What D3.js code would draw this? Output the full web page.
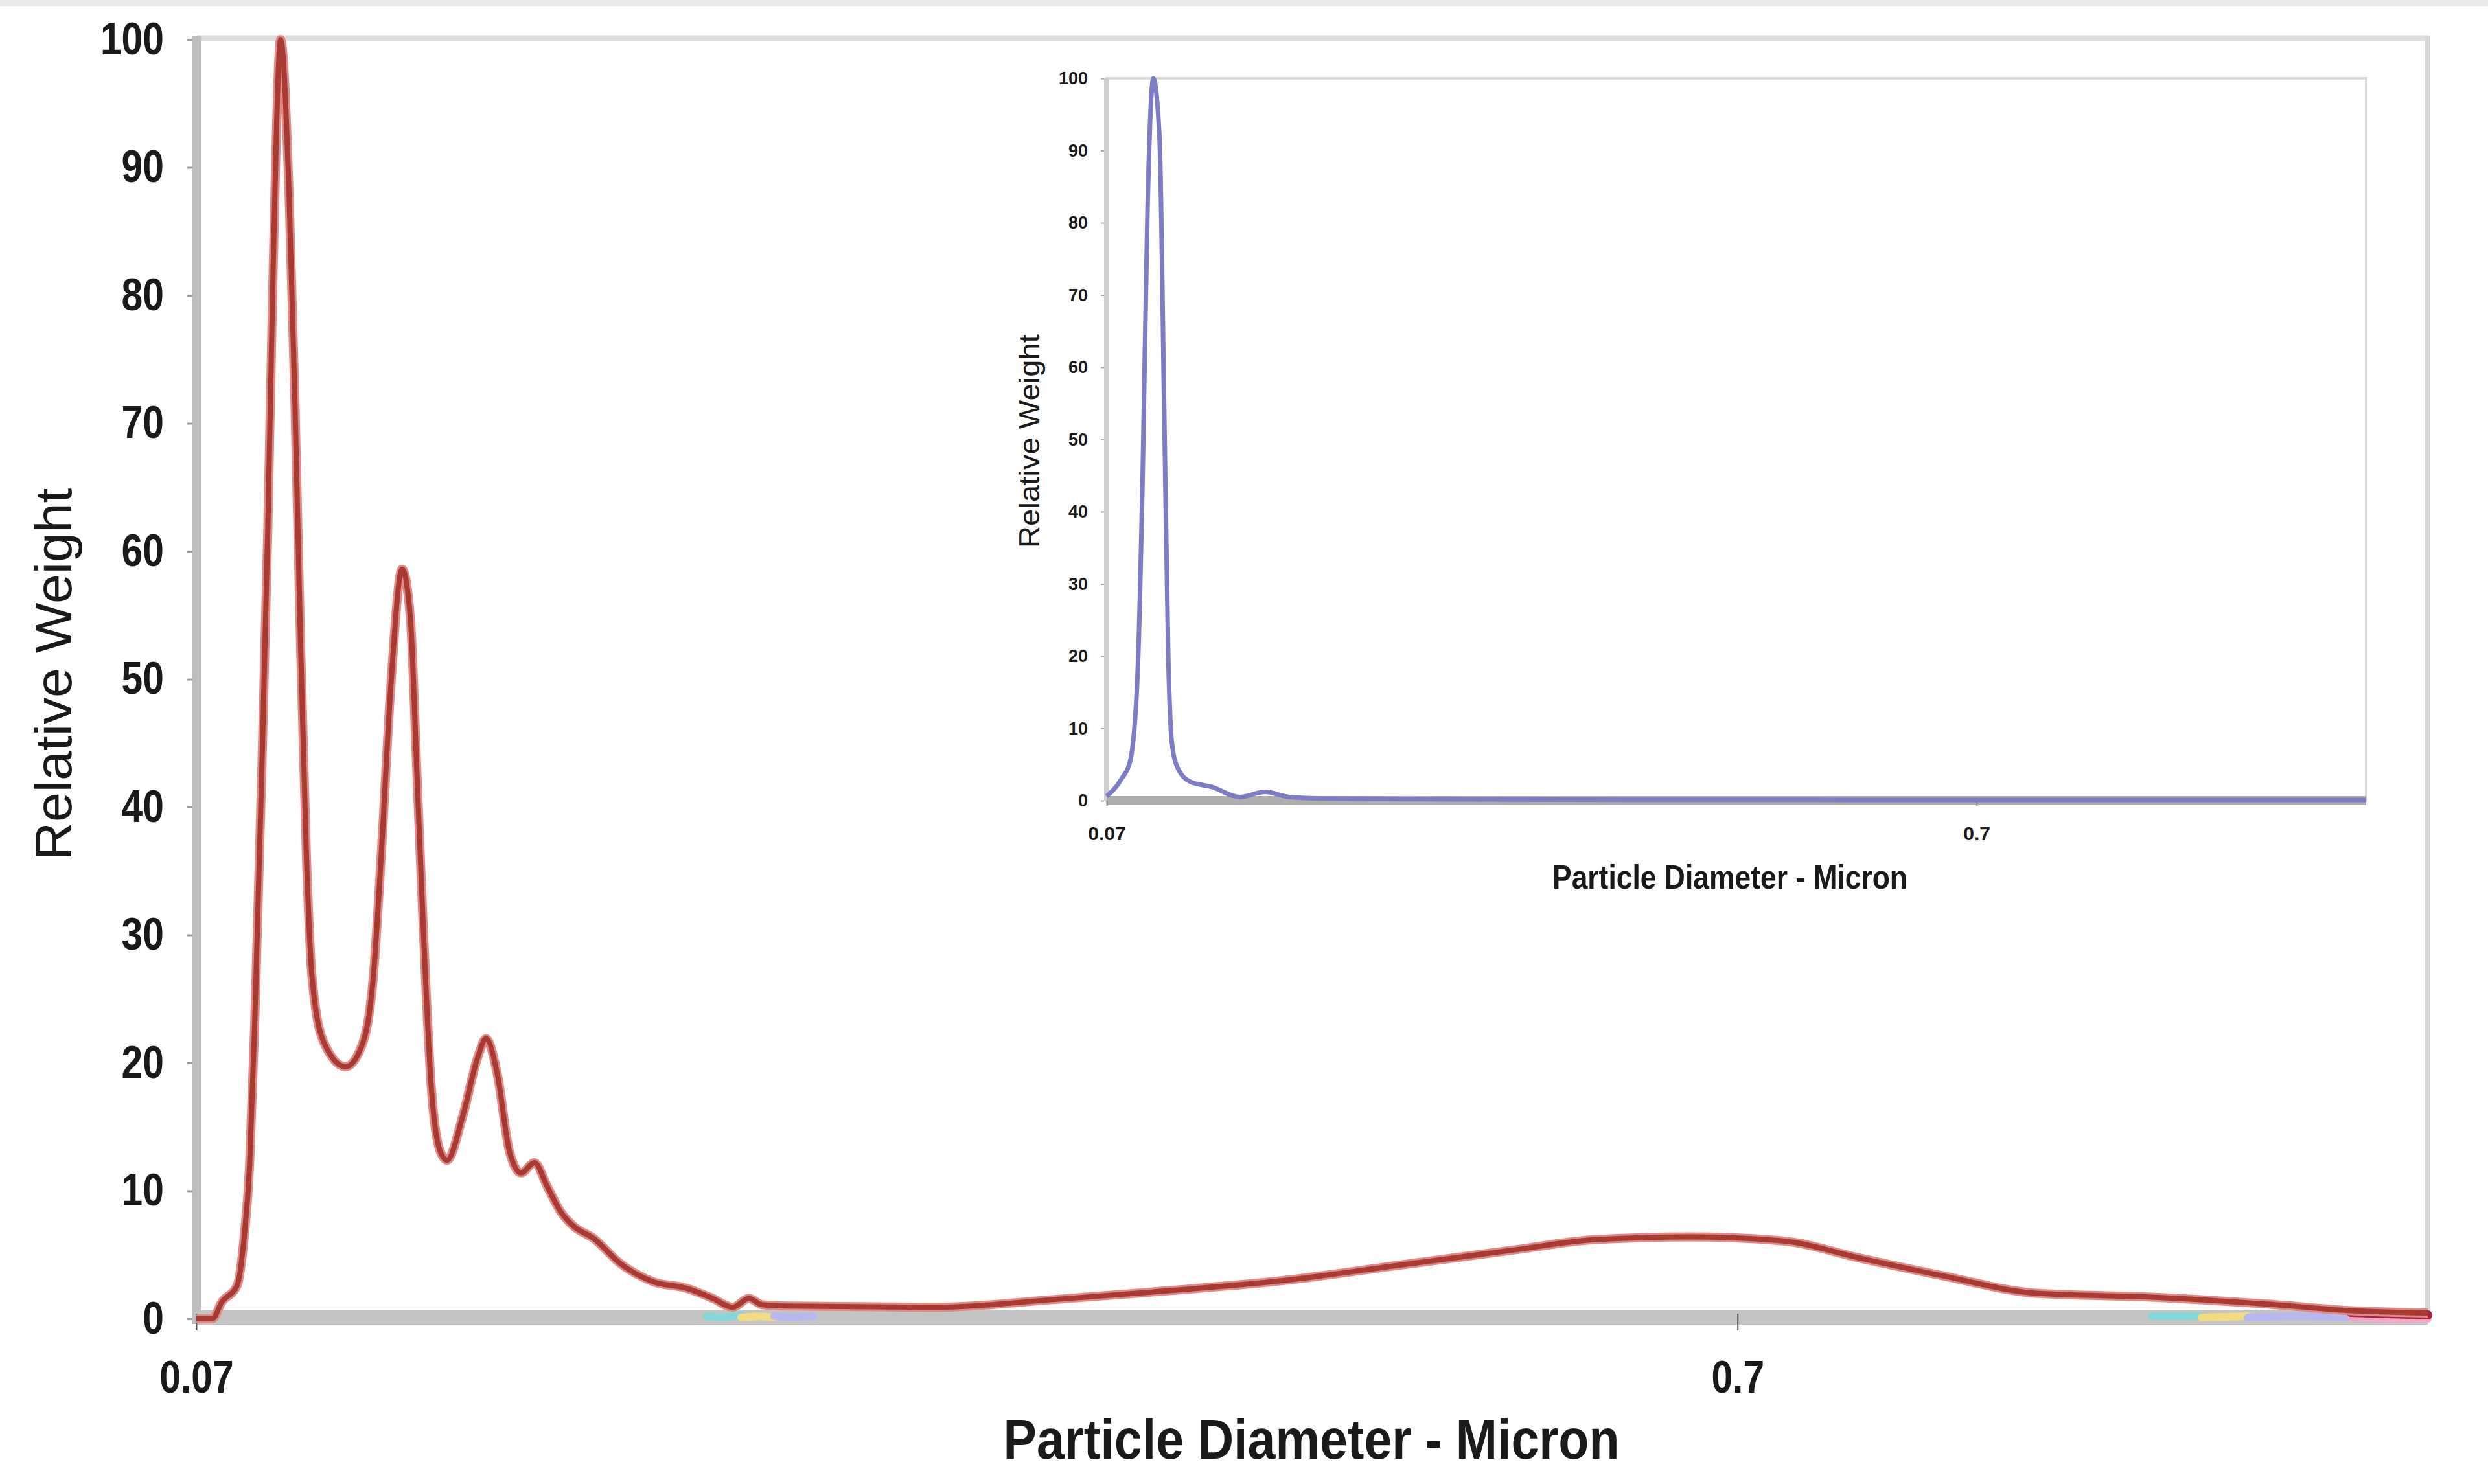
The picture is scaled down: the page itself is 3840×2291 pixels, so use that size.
<!DOCTYPE html>
<html>
<head>
<meta charset="utf-8">
<script src="https://cdn.jsdelivr.net/npm/d3@7"></script>
<style>
  body { margin: 0; background: #fff; }
  svg { display: block; }
  .narrow { font-family: "Liberation Sans Narrow", "Arial Narrow", "Liberation Sans", Arial, sans-serif; font-weight: bold; fill: #1a1a1a; }
  .regular { font-family: "Liberation Sans", Arial, sans-serif; fill: #1a1a1a; }
</style>
</head>
<body>
<svg id="chart" width="3840" height="2291"></svg>
<script>
// main distribution (red), particle diameter in micron vs relative weight
var diameter = [0.0700, 0.0717, 0.0727, 0.0744, 0.0752, 0.0758, 0.0764, 0.0772, 0.0779, 0.0785,
  0.0794, 0.0804, 0.0811, 0.0818, 0.0825, 0.0832, 0.0847, 0.0875, 0.0896, 0.0912,
  0.0923, 0.0936, 0.0952, 0.0964, 0.0973, 0.0983, 0.0994, 0.1007, 0.1018, 0.1042,
  0.1065, 0.1079, 0.1098, 0.1117, 0.1137, 0.1160, 0.1183, 0.1206, 0.1231, 0.1267,
  0.1318, 0.1385, 0.1455, 0.1514, 0.1560, 0.1598, 0.1630, 0.1691, 0.2116, 0.2517,
  0.2993, 0.3556, 0.4228, 0.5023, 0.5667, 0.6510, 0.7476, 0.8436, 0.9523, 1.0935,
  1.2994, 1.5453, 1.7439, 1.963]
var weight = [0, 0, 1.3, 2.6, 6.5, 12, 23.5, 43, 62, 81.7,
  100, 88, 72, 52.6, 36.5, 26.8, 21.6, 19.7, 21.3, 26.8,
  36.5, 49.4, 58.6, 54.6, 43, 30, 18.4, 13.2, 12.4, 15.8,
  20.3, 21.9, 19, 13.2, 11.4, 12.2, 10.3, 8.4, 7.2, 6.3,
  4.35, 2.9, 2.4, 1.6, 0.9, 1.6, 1.1, 1.0, 0.9, 1.5,
  2.2, 3.0, 4.2, 5.4, 6.2, 6.4, 6.1, 4.7, 3.35, 2.0,
  1.7, 1.15, 0.65, 0.45]

// inset distribution (blue)
var insetDiameter = [0.0700, 0.0728, 0.0745, 0.0760, 0.0770, 0.0780, 0.0792, 0.0805, 0.0815, 0.0824,
  0.0832, 0.0845, 0.0874, 0.0925, 0.0995, 0.1065, 0.1135, 0.125, 0.2, 0.5, 1.963]
var insetWeight = [0.6, 3, 5.5, 18, 45, 82, 100, 92, 55, 20,
  8, 4.5, 2.6, 1.9, 0.5, 1.2, 0.5, 0.3, 0.15, 0.1, 0.1]

// faint traces lying on the baseline (only short pieces show)
var traceDiameter = [0.150, 0.154, 0.158, 0.162, 0.166, 0.170, 0.176, 1.20, 1.30, 1.40, 1.50, 1.62, 1.75, 1.85, 1.963]
var cyanTrace     = [0.2, 0.1, 0.3, null, null, null, null, null, 0.2, 0.2, null, null, null, null, null]
var yellowTrace   = [null, null, 0.1, 0.2, 0.1, null, null, null, null, 0.1, 0.2, null, null, null, null]
var lavenderTrace = [null, null, null, null, 0.2, 0.1, 0.2, null, null, null, 0.1, 0.2, 0.1, null, null]
var pinkTrace     = [null, null, null, null, null, null, null, null, null, null, null, null, 0.1, 0.0, 0.0]
var crimsonTrace  = [null, null, null, null, null, null, null, null, null, null, null, null, 0.5, 0.4, 0.3]

var yTicks = d3.range(0, 101, 10)
var xTicks = [0.07, 0.7]

const svg = d3.select("#chart")

function zip(xs, ys) {
    return xs.map(function (d, i) { return {x: d, y: ys[i]} })
}

// squeeze bold text to look like a narrow face
function squeeze(sel, k) {
    sel.each(function () {
        var w = this.getComputedTextLength()
        d3.select(this).attr("textLength", w * k).attr("lengthAdjust", "spacingAndGlyphs")
    })
}

// thin strip along the very top
svg.append("rect").attr("x", 0).attr("y", 0).attr("width", 3840).attr("height", 10).attr("fill", "#e9e9e9")

// ---------- main chart ----------
const main = {left: 303, top: 61, right: 3747, bottom: 2036}

const x = d3.scaleLog().domain([0.07, 1.963]).range([main.left, main.right])
const y = d3.scaleLinear().domain([0, 100]).range([main.bottom, main.top])

// frame
svg.append("line").attr("x1", main.left).attr("x2", main.right).attr("y1", main.top - 2).attr("y2", main.top - 2)
    .attr("stroke", "#dcdcdc").attr("stroke-width", 9)
svg.append("line").attr("x1", main.right).attr("x2", main.right).attr("y1", main.top - 6).attr("y2", main.bottom)
    .attr("stroke", "#d8d8d8").attr("stroke-width", 8)
svg.append("line").attr("x1", main.left).attr("x2", main.left).attr("y1", main.top - 6).attr("y2", main.bottom + 8)
    .attr("stroke", "#bdbdbd").attr("stroke-width", 14)
svg.append("line").attr("x1", main.left).attr("x2", main.right).attr("y1", main.bottom - 2).attr("y2", main.bottom - 2)
    .attr("stroke", "#c4c4c4").attr("stroke-width", 22)

// y axis ticks + labels
const yAxis = svg.append("g")
    .attr("transform", "translate(" + (main.left - 6) + ",0)")
    .call(d3.axisLeft(y).tickValues(yTicks).tickSize(8).tickPadding(36))
yAxis.select(".domain").remove()
yAxis.selectAll(".tick line").attr("stroke", "#9a9a9a").attr("stroke-width", 3)
yAxis.selectAll(".tick text").attr("class", "narrow").attr("font-size", 70).call(squeeze, 0.84)

// x axis ticks + labels
const xAxis = svg.append("g")
    .attr("transform", "translate(0," + (main.bottom - 8) + ")")
    .call(d3.axisBottom(x).tickValues(xTicks).tickFormat(function (d) { return String(d) })
        .tickSize(26).tickPadding(46))
xAxis.select(".domain").remove()
xAxis.selectAll(".tick line").attr("stroke", "#555").attr("stroke-width", 2)
xAxis.selectAll(".tick text").attr("class", "narrow").attr("font-size", 70).call(squeeze, 0.84)

// baseline traces
const trace = d3.line()
    .defined(function (d) { return d.y !== null })
    .x(function (d) { return x(d.x) })
    .y(function (d) { return y(d.y) })

var traces = [
    {vals: cyanTrace, color: "#86d8d8", w: 12},
    {vals: yellowTrace, color: "#f1dc82", w: 12},
    {vals: lavenderTrace, color: "#b9b7ef", w: 12},
    {vals: pinkTrace, color: "#f3a6c6", w: 12},
    {vals: crimsonTrace, color: "#a8253e", w: 14}
]
traces.forEach(function (t) {
    svg.append("path")
        .datum(zip(traceDiameter, t.vals))
        .attr("d", trace)
        .attr("fill", "none")
        .attr("stroke", t.color)
        .attr("stroke-width", t.w)
        .attr("stroke-linecap", "round")
})

// main curve
const mainLine = d3.line()
    .x(function (d) { return x(d.x) })
    .y(function (d) { return y(d.y) })
    .curve(d3.curveMonotoneX)

svg.append("path")
    .datum(zip(diameter, weight))
    .attr("d", mainLine)
    .attr("fill", "none")
    .attr("stroke", "#e08a84")
    .attr("stroke-width", 14)
    .attr("stroke-linejoin", "round")
svg.append("path")
    .datum(zip(diameter, weight))
    .attr("d", mainLine)
    .attr("fill", "none")
    .attr("stroke", "#a83a34")
    .attr("stroke-width", 8)
    .attr("stroke-linejoin", "round")

// axis titles
svg.append("text")
    .attr("class", "narrow")
    .attr("x", 2024).attr("y", 2252)
    .attr("text-anchor", "middle")
    .attr("font-size", 88)
    .attr("textLength", 951).attr("lengthAdjust", "spacingAndGlyphs")
    .text("Particle Diameter - Micron")

svg.append("text")
    .attr("class", "regular")
    .attr("transform", "translate(110,1041) rotate(-90)")
    .attr("text-anchor", "middle")
    .attr("font-size", 80)
    .attr("textLength", 575).attr("lengthAdjust", "spacingAndGlyphs")
    .text("Relative Weight")

// ---------- inset chart ----------
const inset = {left: 1708, top: 121, right: 3652, bottom: 1236}

const xi = d3.scaleLog().domain([0.07, 1.963]).range([inset.left, inset.right])
const yi = d3.scaleLinear().domain([0, 100]).range([inset.bottom, inset.top])

svg.append("rect")
    .attr("x", inset.left).attr("y", inset.top)
    .attr("width", inset.right - inset.left).attr("height", inset.bottom - inset.top)
    .attr("fill", "#fff").attr("stroke", "#dadada").attr("stroke-width", 4)
svg.append("line").attr("x1", inset.left).attr("x2", inset.left).attr("y1", inset.top).attr("y2", inset.bottom)
    .attr("stroke", "#cfcfcf").attr("stroke-width", 8)
svg.append("line").attr("x1", inset.left).attr("x2", inset.right).attr("y1", inset.bottom).attr("y2", inset.bottom)
    .attr("stroke", "#aeaeae").attr("stroke-width", 14)

const yiAxis = svg.append("g")
    .attr("transform", "translate(" + (inset.left - 4) + ",0)")
    .call(d3.axisLeft(yi).tickValues(yTicks).tickSize(5).tickPadding(20))
yiAxis.select(".domain").remove()
yiAxis.selectAll(".tick line").attr("stroke", "#aaa").attr("stroke-width", 2)
yiAxis.selectAll(".tick text").attr("class", "narrow").attr("font-size", 27)

const xiAxis = svg.append("g")
    .attr("transform", "translate(0," + inset.bottom + ")")
    .call(d3.axisBottom(xi).tickValues(xTicks).tickFormat(function (d) { return String(d) })
        .tickSize(8).tickPadding(32))
xiAxis.select(".domain").remove()
xiAxis.selectAll(".tick line").attr("stroke", "#888").attr("stroke-width", 2)
xiAxis.selectAll(".tick text").attr("class", "narrow").attr("font-size", 30)

const insetLine = d3.line()
    .x(function (d) { return xi(d.x) })
    .y(function (d) { return yi(d.y) })
    .curve(d3.curveMonotoneX)

svg.append("path")
    .datum(zip(insetDiameter, insetWeight))
    .attr("d", insetLine)
    .attr("fill", "none")
    .attr("stroke", "#7d7cc4")
    .attr("stroke-width", 7)
    .attr("stroke-linejoin", "round")

svg.append("text")
    .attr("class", "narrow")
    .attr("x", 2670).attr("y", 1372)
    .attr("text-anchor", "middle")
    .attr("font-size", 52)
    .attr("textLength", 548).attr("lengthAdjust", "spacingAndGlyphs")
    .text("Particle Diameter - Micron")

svg.append("text")
    .attr("class", "regular")
    .attr("transform", "translate(1604,681) rotate(-90)")
    .attr("text-anchor", "middle")
    .attr("font-size", 44)
    .attr("textLength", 330).attr("lengthAdjust", "spacingAndGlyphs")
    .text("Relative Weight")
</script>
</body>
</html>
